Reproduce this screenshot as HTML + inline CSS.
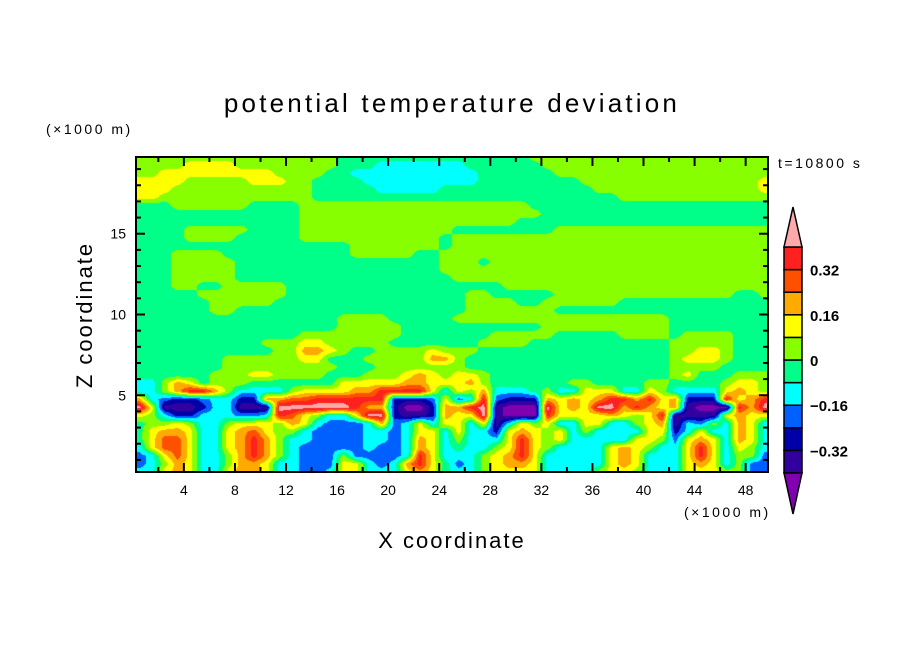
<!DOCTYPE html>
<html><head><meta charset="utf-8">
<style>
html,body{margin:0;padding:0;background:#fff;}
#wrap{position:relative;width:904px;height:654px;overflow:hidden;font-family:"Liberation Sans",sans-serif;}
canvas{position:absolute;left:0;top:0;}
svg{position:absolute;left:0;top:0;}
</style></head>
<body>
<div id="wrap">
<canvas id="cv" width="904" height="654"></canvas>
<svg id="sv" width="904" height="654" xmlns="http://www.w3.org/2000/svg">
  <text x="452" y="112" text-anchor="middle" font-size="26" letter-spacing="3.2" fill="#000">potential temperature deviation</text>
  <text x="46" y="134" font-size="14" letter-spacing="2.5" fill="#000">(×1000 m)</text>
  <text x="778" y="168" font-size="14" letter-spacing="2.5" fill="#000">t=10800 s</text>
  <text transform="translate(92,315) rotate(-90)" text-anchor="middle" font-size="22" letter-spacing="2" fill="#000">Z coordinate</text>
  <text x="452" y="548" text-anchor="middle" font-size="22" letter-spacing="2" fill="#000">X coordinate</text>
  <text x="684" y="517" font-size="14" letter-spacing="2.5" fill="#000">(×1000 m)</text>
  <g id="ticks"></g>
  <g id="cbar"></g>
</svg>
</div>
<script>
// ---- data ----
const xDomain = [0.25, 49.75];
const zDomain = [0.25, 19.75];
const levels = [-0.4,-0.32,-0.24,-0.16,-0.08,0,0.08,0.16,0.24,0.32,0.4];
const levelColors = ["#8000b0","#3300a0","#0000a8","#0060ff","#00ffff","#00ff88","#88ff00","#ffff00","#ffaa00","#ff5000","#ff2020","#ffaaaa"];
const xTickLabels = [4,8,12,16,20,24,28,32,36,40,44,48];
const zTickLabels = [5,10,15];
const cbarLabels = ["0.32","0.16","0","\u22120.16","\u22120.32"];
const cbarLabelValues = [0.32,0.16,0,-0.16,-0.32];
// grid: 40 rows (z 20 -> 0, 0.5 km each), 50 cols (1 km each) as [x 0-25, x 25-50] halves
// code c -> value -0.44+0.08*c
const gridCodes = "0123456789AB";
const rows = [
["6666666666666666555555555","5555556666666666666666666"],
["6666777766666666555444444","4555555666666666666666666"],
["6677777777766665544444444","4455555566666666666666666"],
["7777666667776655554444444","4455555555666666666666667"],
["7776666666666655555444445","5555555555566666666666667"],
["7766666666666655555555555","5555555555555666666666666"],
["5556666665555666666666666","6666665555555555555555555"],
["5555555555555666666666666","6666666555555555555555555"],
["5555555555555666666666666","6666655555555555555555555"],
["5555666665555666666666666","5555555566666666666666666"],
["5555666655555666666666665","6666666666666666666666666"],
["5555555555555555566666665","6666666666666666666666666"],
["5556666555555555566666556","6666666666666666666666666"],
["5556666655555555555555556","6656666666666666666666666"],
["5556666655555555555555556","6666666666666666666666666"],
["5556666655555555555555555","6666666666666666666666666"],
["5556655666665555555555555","5555666666666666666666666"],
["5555566666665555555555555","5665555566666666666666556"],
["5555556666655555555555555","5666655666666555555555555"],
["5555556655555555555555555","5666666655555555555555555"],
["5555555555555555666655555","6666666666666666655555555"],
["5555555555555555666665555","5555555666666666655555555"],
["5555555555555666666665555","5556666655555666656666555"],
["5555555555666776666655555","5566665555555555566666555"],
["5555555555566887655666676","6655555555555555566776555"],
["5555555666666775556666688","6555555555555555567776555"],
["5555555666666666555666666","6555555555555555566665555"],
["5555556667766665556667876","7765555555555555567555666"],
["4468756665555555777778877","7865555556655556655556776"],
["4468AA8644446777788AAAA74","7684445644777447644447876"],
["84322344228899AAAAAA22237","34A322287878AA8A78222A78A"],
["B7111244111BBBBBBA8820028","8AB1000B787BB8A8781000A8B"],
["76422444334A976447BB21128","77B1000A77778767A11117877"],
["5667644677768743334834747","7471476744774467814364874"],
["5788744789766433334434774","7442787674644447724744874"],
["579974478A864433334434874","64447A7674444477637874874"],
["479974478A864333334334874","54467A7644447876447A74764"],
["347974468A864333633334A74","44678A7444447874447A74663"],
["3468744688744333774348A75","3467887444447874447874633"],
["4478744788744334774447875","4467777444467764447776633"]
];
const zRowTop = 20, zRowStep = 0.5, nCols = 50;
</script>
<script>
// ---- axis functions ----
const plot = {x0:136, x1:768, y0:157, y1:472};
function xScale(x){ return plot.x0 + (x - xDomain[0]) / (xDomain[1]-xDomain[0]) * (plot.x1-plot.x0); }
function zScale(z){ return plot.y1 - (z - zDomain[0]) / (zDomain[1]-zDomain[0]) * (plot.y1-plot.y0); }
function xInv(px){ return xDomain[0] + (px-plot.x0)/(plot.x1-plot.x0)*(xDomain[1]-xDomain[0]); }
function zInv(py){ return zDomain[0] + (plot.y1-py)/(plot.y1-plot.y0)*(zDomain[1]-zDomain[0]); }

function fixHalf(s){ s=s.slice(0,nCols/2); while(s.length<nCols/2) s+=s[s.length-1]; return s; }
const grid = rows.map(r=>(fixHalf(r[0])+fixHalf(r[1])).split("").map(c=>-0.44+0.08*gridCodes.indexOf(c)));
const nRows = grid.length;
function sample(x,z){
  let fc = x - 0.5;
  let fr = (zRowTop - zRowStep/2 - z)/zRowStep;
  fc = Math.max(0,Math.min(nCols-1,fc)); fr = Math.max(0,Math.min(nRows-1,fr));
  const c0=Math.floor(fc), r0=Math.floor(fr), c1=Math.min(nCols-1,c0+1), r1=Math.min(nRows-1,r0+1);
  const tx=fc-c0, ty=fr-r0;
  const a=grid[r0][c0]*(1-tx)+grid[r0][c1]*tx, b=grid[r1][c0]*(1-tx)+grid[r1][c1]*tx;
  return a*(1-ty)+b*ty;
}
const cv=document.getElementById('cv'), ctx=cv.getContext('2d');
const W=plot.x1-plot.x0, H=plot.y1-plot.y0;
const img=ctx.createImageData(W,H);
const rgb=levelColors.map(h=>[parseInt(h.substr(1,2),16),parseInt(h.substr(3,2),16),parseInt(h.substr(5,2),16)]);
for(let py=0;py<H;py++){ const z=zInv(plot.y0+py+0.5);
  for(let px=0;px<W;px++){ const v=sample(xInv(plot.x0+px+0.5),z);
    let i=0; while(i<levels.length && v>=levels[i]) i++;
    const k=(py*W+px)*4, c=rgb[i]; img.data[k]=c[0];img.data[k+1]=c[1];img.data[k+2]=c[2];img.data[k+3]=255; } }
ctx.putImageData(img,plot.x0,plot.y0);

const NS="http://www.w3.org/2000/svg";
const tg=document.getElementById('ticks');
function mk(tag,attrs,parent){ const e=document.createElementNS(NS,tag); for(const k in attrs) e.setAttribute(k,attrs[k]); parent.appendChild(e); return e; }
const frame=mk('rect',{x:plot.x0,y:plot.y0,width:W,height:H,fill:'none',stroke:'#000','stroke-width':2},tg);


for(let x=2;x<=48;x+=2){ const px=xScale(x), L=(x%4===0)?9:5;
  const t1=mk('line',{x1:px,y1:plot.y1,x2:px,y2:plot.y1-L,stroke:'#000','stroke-width':2},tg);
  
  
  const t2=mk('line',{x1:px,y1:plot.y0,x2:px,y2:plot.y0+L,stroke:'#000','stroke-width':2},tg);
  
  
}
xTickLabels.forEach(x=>{ const t=mk('text',{x:xScale(x),y:plot.y1+23,'text-anchor':'middle','font-size':14,fill:'#000'},tg); t.textContent=x;
  
   });
for(let z=1;z<=19;z++){ const py=zScale(z), L=(z%5===0)?9:5;
  const t1=mk('line',{x1:plot.x0,y1:py,x2:plot.x0+L,y2:py,stroke:'#000','stroke-width':2},tg);
  
  
  const t2=mk('line',{x1:plot.x1,y1:py,x2:plot.x1-L,y2:py,stroke:'#000','stroke-width':2},tg);
  
  
}
zTickLabels.forEach(z=>{ const t=mk('text',{x:plot.x0-10,y:zScale(z)+5,'text-anchor':'end','font-size':14,fill:'#000'},tg); t.textContent=z;
  
   });

const cb=document.getElementById('cbar');
const cbx0=784, cbx1=802, cbTop=247, cbBot=473, nBox=levels.length-1;
const boxH=(cbBot-cbTop)/nBox;
function cbY(v){ return cbTop + (levels[levels.length-1]-v)/(levels[levels.length-1]-levels[0])*(cbBot-cbTop); }
for(let i=0;i<nBox;i++){ const y=cbY(levels[i+1]);
  const r=mk('rect',{x:cbx0,y:y,width:cbx1-cbx0,height:boxH,fill:levelColors[i+1],stroke:'#000','stroke-width':1.5},cb);
  
   }
const up=mk('polygon',{points:`${cbx0},${cbTop} ${cbx1},${cbTop} ${(cbx0+cbx1)/2},207`,fill:levelColors[11],stroke:'#000','stroke-width':1.5},cb);


const dn=mk('polygon',{points:`${cbx0},${cbBot} ${cbx1},${cbBot} ${(cbx0+cbx1)/2},514`,fill:levelColors[0],stroke:'#000','stroke-width':1.5},cb);


cbarLabels.forEach((s,i)=>{ const t=mk('text',{x:810,y:cbY(cbarLabelValues[i])+6,'font-size':15,'font-weight':'bold',fill:'#000'},cb); t.textContent=s;
  
   });
</script>
</body></html>
